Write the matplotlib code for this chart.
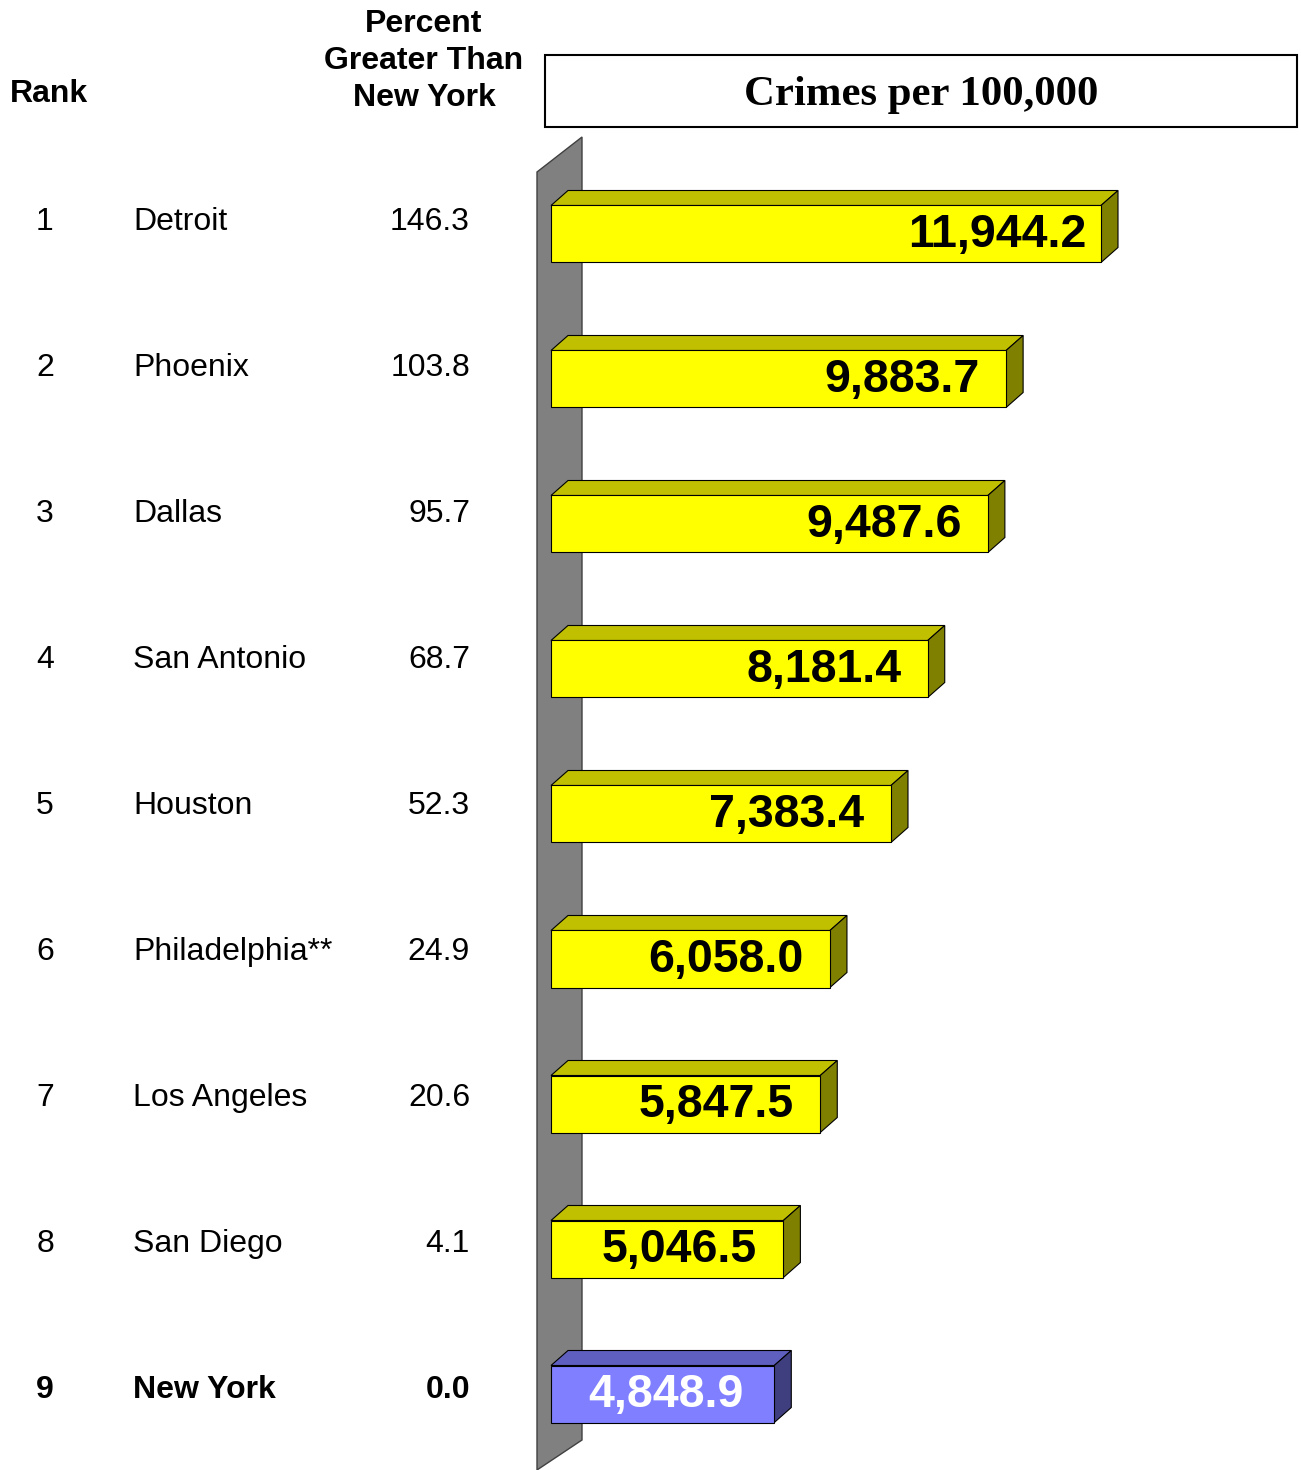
import matplotlib.pyplot as plt
import matplotlib.transforms as mtransforms
from matplotlib.patches import Polygon, Rectangle

ranks = ["1", "2", "3", "4", "5", "6", "7", "8", "9"]
cities = ["Detroit", "Phoenix", "Dallas", "San Antonio", "Houston",
          "Philadelphia**", "Los Angeles", "San Diego", "New York"]
pct_greater = ["146.3", "103.8", "95.7", "68.7", "52.3", "24.9", "20.6", "4.1", "0.0"]
crimes = [11944.2, 9883.7, 9487.6, 8181.4, 7383.4, 6058.0, 5847.5, 5046.5, 4848.9]

W, H = 1301, 1470
fig = plt.figure(figsize=(W / 100, H / 100), dpi=100)
ax = fig.add_axes([0, 0, 1, 1])
ax.axis("off")

# layout scale: px per crime unit, px per row
x0_px = 551
k = 550 / 11944.2
row0_px = 234
row_px = 145.0
ax.set_xlim(-x0_px / k, (W - x0_px) / k)
ax.set_ylim((H - row0_px) / row_px, -row0_px / row_px)

# pixel transform (origin top-left)
px = mtransforms.Affine2D().scale(1 / W, -1 / H).translate(0, 1) + fig.transFigure

# back wall
wall = Polygon([(537, 172), (582, 137), (582, 1440), (537, 1470)], closed=True,
               facecolor="#808080", edgecolor="#404040", lw=1, transform=px, zorder=1)
ax.add_patch(wall)

# title box
ax.add_patch(Rectangle((545, 55), 752, 72, facecolor="white", edgecolor="black",
                       lw=1.5, transform=px, zorder=1))
ax.text(921, 95, "Crimes per 100,000", transform=px, ha="center", va="center",
        family="Liberation Serif", weight="bold", fontsize=30.8)

# headers
hdr = dict(family="Liberation Sans", weight="bold", fontsize=23, transform=px)
ax.text(49, 94, "Rank", ha="center", va="center", **hdr)
ax.text(424, 61, "Percent\nGreater Than\nNew York", ha="center", va="center",
        linespacing=1.3, **hdr)

dx = 17 / k
dy = 15 / row_px
half = 28.5 / row_px
ytrans = ax.get_yaxis_transform()

for i, (r, c, p, v) in enumerate(zip(ranks, cities, pct_greater, crimes)):
    ny = c == "New York"
    front, top, side = ("#7F7FFF", "#5F5FBF", "#3F3F7F") if ny else ("#FFFF00", "#C0C000", "#808000")
    yt, yb = i - half, i + half
    ax.add_patch(Polygon([(0, yt), (dx, yt - dy), (v + dx, yt - dy), (v, yt)],
                         facecolor=top, edgecolor="black", lw=0.8, zorder=3))
    ax.add_patch(Polygon([(v, yt), (v + dx, yt - dy), (v + dx, yb - dy), (v, yb)],
                         facecolor=side, edgecolor="black", lw=0.8, zorder=3))
    ax.add_patch(Rectangle((0, yt), v, yb - yt, facecolor=front,
                           edgecolor="black", lw=0.8, zorder=4))

    lab = f"{v:,.1f}"
    ax.text(v - (108 if ny else 104) / k, i + 0.01, lab, ha="center", va="center",
            color="white" if ny else "black", family="Liberation Sans",
            weight="bold", fontsize=33.5, zorder=5)

    w = "bold" if ny else "normal"
    yl = (i * 146 - 12) / row_px
    kw = dict(transform=ytrans, va="center", family="Liberation Sans",
              fontsize=23, weight=w)
    ax.text(45 / W, yl, r, ha="center", **kw)
    ax.text(133 / W, yl, c, ha="left", **kw)
    ax.text(470 / W, yl, p, ha="right", **kw)

fig.savefig("out.png", dpi=100)
